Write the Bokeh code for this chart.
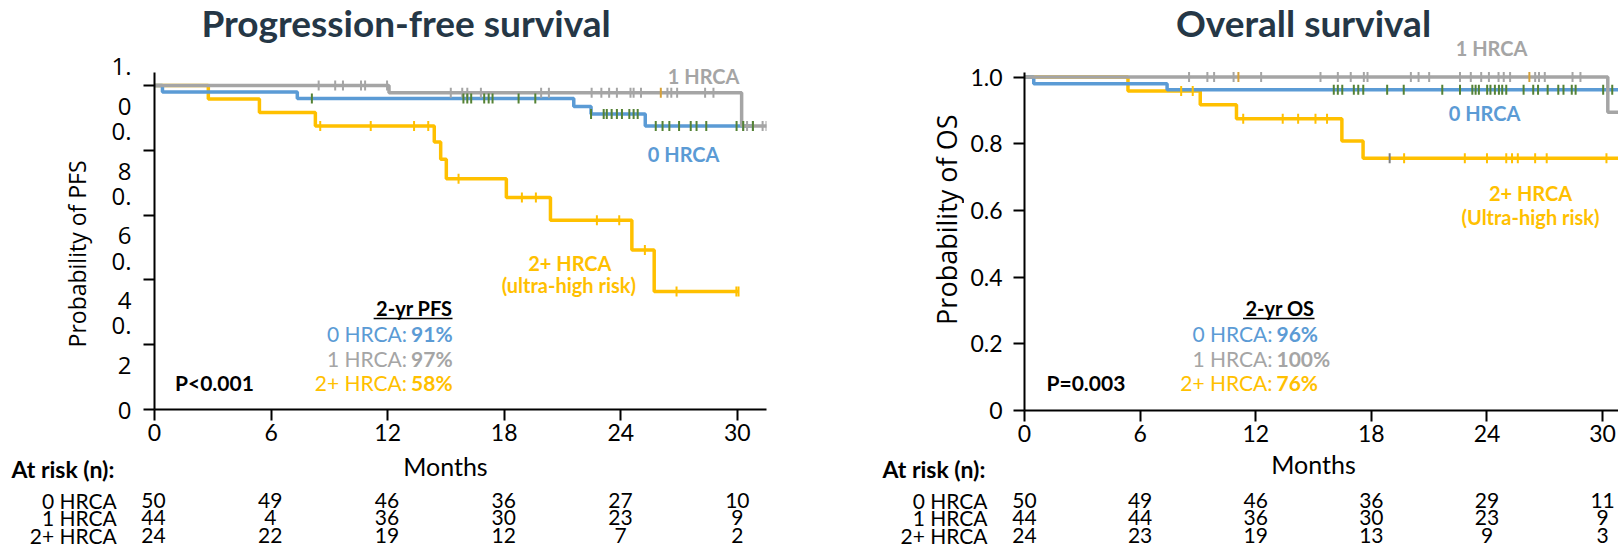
import numpy as np
from bokeh.plotting import figure
from bokeh.models import FixedTicker, Range1d
from bokeh.layouts import row, column
from bokeh.core.properties import value
from bokeh.embed import file_html
from bokeh.resources import INLINE

# ---------------- colours ----------------
GRAY = "#A5A5A5"
BLUE = "#5B9BD5"
YELLOW = "#FFC000"
GREEN = "#548235"
ORANGE = "#D6A13A"
DARK = "#7F7F7F"
TITLE = "#253746"

# ---------------- data ----------------
month_ticks = [0, 6, 12, 18, 24, 30]
group_names = ["0 HRCA", "1 HRCA", "2+ HRCA"]

# Progression-free survival (step curves: event times and survival after each)
pfs_0_t = [0, 0.41, 7.35, 21.58, 22.47, 25.26, 30.8]
pfs_0_s = [1.0, 0.98, 0.96, 0.935, 0.912, 0.875, 0.875]
pfs_1_t = [0, 12.07, 30.22, 31.6]
pfs_1_s = [1.0, 0.978, 0.875, 0.875]
pfs_2_t = [0, 2.77, 5.4, 8.28, 14.4, 14.73, 15.02, 18.11, 20.38, 24.57, 25.72, 30.06]
pfs_2_s = [1.0, 0.958, 0.917, 0.875, 0.826, 0.772, 0.712, 0.654, 0.584, 0.492, 0.364, 0.364]

pfs_0_cens = [8.1, 15.9, 16.1, 16.3, 16.97, 17.2, 17.4, 18.74, 19.6, 22.47, 23.12, 23.28,
              23.53, 23.8, 24.06, 24.44, 24.66, 24.87, 25.8, 26.15, 26.5, 27.0, 27.6, 27.9,
              28.4, 29.96, 30.3, 30.8]
pfs_1_cens = [8.45, 9.3, 9.7, 10.63, 10.84, 11.97, 15.25, 15.84, 16.1, 16.8, 19.9, 20.3,
              22.5, 23.0, 23.4, 23.8, 24.5, 24.66, 25.04, 26.4, 26.6, 26.9, 28.34, 28.77,
              30.3, 30.5, 30.8, 31.3, 31.5]
pfs_1_cens_hl = [26.06]
pfs_2_cens = [8.53, 11.13, 13.36, 14.09, 15.65, 18.91, 19.63, 22.77, 23.92, 25.24, 26.87,
              29.95, 30.06]

pfs_risk_0 = [50, 49, 46, 36, 27, 10]
pfs_risk_1 = [44, 4, 36, 30, 23, 9]
pfs_risk_2 = [24, 22, 19, 12, 7, 2]
pfs_2yr = ["91%", "97%", "58%"]
pfs_p = "P<0.001"

# Overall survival
os_0_t = [0, 0.48, 7.4, 31.5]
os_0_s = [1.0, 0.98, 0.962, 0.962]
os_1_t = [0, 30.27, 31.5]
os_1_s = [1.0, 0.894, 0.894]
os_2_t = [0, 5.37, 9.12, 11.0, 16.47, 17.57, 31.5]
os_2_s = [1.0, 0.958, 0.917, 0.875, 0.808, 0.756, 0.756]

os_0_cens = [16.05, 16.26, 16.49, 17.09, 17.32, 17.58, 18.82, 19.68, 21.68, 22.6, 23.24,
             23.41, 23.58, 24.01, 24.18, 24.41, 24.62, 24.79, 25.0, 25.9, 26.4, 26.65,
             27.15, 27.7, 27.97, 28.4, 28.6, 30.03, 30.5]
os_1_cens = [8.54, 9.49, 9.84, 10.85, 12.28, 15.36, 16.26, 16.93, 17.61, 17.8, 20.05,
             20.45, 21.0, 22.6, 23.16, 23.7, 24.1, 24.6, 24.87, 25.2, 26.5, 26.7, 27.0,
             28.44, 28.85]
os_1_cens_hl = [11.1, 26.2]
os_2_cens = [8.13, 8.73, 11.35, 13.4, 14.2, 15.1, 15.7, 19.7, 22.85, 24.0, 25.0, 25.3,
             25.6, 26.5, 27.1, 30.2]
os_2_cens_hl = [18.95]

os_risk_0 = [50, 49, 46, 36, 29, 11]
os_risk_1 = [44, 44, 36, 30, 23, 9]
os_risk_2 = [24, 23, 19, 13, 9, 3]
os_2yr = ["96%", "100%", "76%"]
os_p = "P=0.003"

# ---------------- page layout (px) ----------------
TOP_H = 447          # height of the plot row
BOT_H = 554 - TOP_H  # height of the risk-table row
ROW_Y = [499.5, 517, 534.5]


# ---------------- helpers ----------------
def step_value(times, surv, t):
    times = np.asarray(times)
    surv = np.asarray(surv)
    idx = np.searchsorted(times, np.asarray(t, dtype=float), side="right") - 1
    return surv[np.clip(idx, 0, len(surv) - 1)]


def add_curve(p, times, surv, color):
    p.step(times, surv, mode="after", line_color=color, line_width=3.5)


def add_censor(p, times, surv, cens, color):
    if not cens:
        return
    p.scatter(cens, step_value(times, surv, cens), marker="dash", angle=np.pi / 2,
              size=10, line_color=color, line_width=2)


def txt(p, x, y, text, size, color="black", bold=False, align="center",
        baseline="middle", font="Lato", angle=0.0):
    xs = list(x) if isinstance(x, (list, tuple)) else [x]
    ys = list(y) if isinstance(y, (list, tuple)) else [y] * len(xs)
    ts = list(text) if isinstance(text, (list, tuple)) else [text] * len(xs)
    p.text(x=xs, y=ys, text=ts, text_font=value(font), text_font_size=f"{size}px",
           text_color=color, text_font_style="bold" if bold else "normal",
           text_align=align, text_baseline=baseline, angle=angle)


def blank(width, height, x_range, y_range):
    p = figure(width=width, height=height, output_backend="svg", toolbar_location=None,
               x_axis_type=None, y_axis_type=None, title=None,
               x_range=x_range, y_range=y_range,
               min_border_left=0, min_border_right=0, min_border_top=0,
               min_border_bottom=0)
    p.outline_line_color = None
    p.background_fill_color = "white"
    p.border_fill_color = "white"
    return p


def make_main(width, mb_left, mb_right, mb_bottom, x_end, y_end, y_axis_top):
    p = figure(width=width, height=TOP_H, output_backend="svg", toolbar_location=None,
               title=None, x_range=Range1d(0, x_end), y_range=Range1d(0, y_end),
               min_border_left=mb_left, min_border_right=mb_right,
               min_border_top=0, min_border_bottom=mb_bottom)
    p.outline_line_color = None
    p.xgrid.visible = False
    p.ygrid.visible = False
    p.background_fill_color = "white"
    p.border_fill_color = "white"
    for ax in (p.xaxis[0], p.yaxis[0]):
        ax.axis_line_width = 2
        ax.axis_line_color = "black"
        ax.major_tick_line_width = 2
        ax.major_tick_line_color = "black"
        ax.major_tick_out = 11
        ax.major_tick_in = 0
        ax.minor_tick_out = 0
        ax.minor_tick_in = 0
        ax.major_label_text_color = "black"
    p.xaxis.ticker = FixedTicker(ticks=month_ticks)
    p.xaxis.major_label_text_font = "Lato"
    p.xaxis.major_label_text_font_size = "23px"
    p.xaxis.major_label_standoff = 3
    p.yaxis.ticker = FixedTicker(ticks=[0, 0.2, 0.4, 0.6, 0.8, 1.0])
    p.yaxis.bounds = (0, y_axis_top)
    return p


# ================= LEFT: PFS =================
LX0, LX1, LYB, LYT = 153.0, 766.0, 409.0, 72.0
L_XEND = 31.5
L_PPM = (LX1 - LX0) / L_XEND
L_PPU = 324.0


def lx(px):
    return (px - LX0) / L_PPM


def ly(py):
    return (LYB - py) / L_PPU


L_SIDE_W, L_SIDEB_W = 108, 120
left = make_main(800 - L_SIDE_W, int(LX0 - L_SIDE_W), int(800 - LX1), int(TOP_H - LYB),
                 L_XEND, LYB / L_PPU, (LYB - LYT) / L_PPU)
left.yaxis.major_label_overrides = {0: "0", 0.2: "0.\n2", 0.4: "0.\n4", 0.6: "0.\n6",
                                    0.8: "0.\n8", 1.0: "1.\n0"}
left.yaxis.major_label_text_font = "Open Sans"
left.yaxis.major_label_text_font_size = "24px"
left.yaxis.major_label_text_line_height = 1.2
left.yaxis.major_label_standoff = 12

add_curve(left, pfs_2_t, pfs_2_s, YELLOW)
add_curve(left, pfs_0_t, pfs_0_s, BLUE)
add_curve(left, pfs_1_t, pfs_1_s, GRAY)
add_censor(left, pfs_2_t, pfs_2_s, pfs_2_cens, YELLOW)
add_censor(left, pfs_1_t, pfs_1_s, pfs_1_cens, GRAY)
add_censor(left, pfs_1_t, pfs_1_s, pfs_1_cens_hl, ORANGE)
add_censor(left, pfs_0_t, pfs_0_s, pfs_0_cens, GREEN)

txt(left, lx(405), ly(22), "Progression-free survival", 37, TITLE, bold=True)
txt(left, lx(703), ly(75), "1 HRCA", 20, GRAY, bold=True)
txt(left, lx(683), ly(153), "0 HRCA", 20, BLUE, bold=True)
txt(left, lx(569), ly(262), "2+ HRCA", 20, YELLOW, bold=True)
txt(left, lx(568), ly(284), "(ultra-high risk)", 20, YELLOW, bold=True)

txt(left, lx(451.5), ly(307), "2-yr PFS", 20, bold=True, align="right")
left.line([lx(372.5), lx(451.5)], [ly(318), ly(318)], line_color="black", line_width=1.5)
for i, (name, col) in enumerate(zip(group_names, [BLUE, GRAY, YELLOW])):
    yy = ly(333 + 24.5 * i)
    txt(left, lx(406), yy, name + ":", 21, col, align="right")
    txt(left, lx(410), yy, pfs_2yr[i], 21, col, bold=True, align="left")
txt(left, lx(173.5), ly(382), pfs_p, 21, bold=True, align="left")

left_side = blank(L_SIDE_W, TOP_H, Range1d(0, L_SIDE_W), Range1d(TOP_H, 0))
txt(left_side, 76, 277, "Probability of PFS", 23, font="Open Sans", angle=np.pi / 2)

left_sideb = blank(L_SIDEB_W, BOT_H, Range1d(0, L_SIDEB_W), Range1d(TOP_H + BOT_H, TOP_H))
txt(left_sideb, 11, 468, "At risk (n):", 23, bold=True, align="left")
for i, name in enumerate(group_names):
    txt(left_sideb, 116.3, ROW_Y[i], name, 21, align="right")

left_bot = blank(800 - L_SIDEB_W, BOT_H, Range1d(lx(L_SIDEB_W), lx(800)),
                 Range1d(TOP_H + BOT_H, TOP_H))
txt(left_bot, 15, 465, "Months", 25)
for i, risk in enumerate([pfs_risk_0, pfs_risk_1, pfs_risk_2]):
    txt(left_bot, month_ticks, ROW_Y[i], [str(n) for n in risk], 21)

# ================= RIGHT: OS =================
RX0, RX1, RYB, RYT = 1024.0, 1618.0, 410.0, 72.0
R_PPM = 19.27
R_XEND = (RX1 - RX0) / R_PPM
R_PPU = 333.5


def rx(px):
    return (px - RX0) / R_PPM


def ry(py):
    return (RYB - py) / R_PPU


R_SIDE_X1, R_SIDEB_X1 = 964, 990
right = make_main(1618 - R_SIDE_X1, int(RX0 - R_SIDE_X1), 0, int(TOP_H - RYB),
                  R_XEND, RYB / R_PPU, (RYB - RYT) / R_PPU)
right.yaxis.major_label_overrides = {0: "0", 0.2: "0.2", 0.4: "0.4", 0.6: "0.6",
                                     0.8: "0.8", 1.0: "1.0"}
right.yaxis.major_label_text_font = "Lato"
right.yaxis.major_label_text_font_size = "23px"
right.yaxis.major_label_standoff = 11

add_curve(right, os_2_t, os_2_s, YELLOW)
add_curve(right, os_0_t, os_0_s, BLUE)
add_curve(right, os_1_t, os_1_s, GRAY)
add_censor(right, os_2_t, os_2_s, os_2_cens, YELLOW)
add_censor(right, os_2_t, os_2_s, os_2_cens_hl, DARK)
add_censor(right, os_1_t, os_1_s, os_1_cens, GRAY)
add_censor(right, os_1_t, os_1_s, os_1_cens_hl, ORANGE)
add_censor(right, os_0_t, os_0_s, os_0_cens, GREEN)

txt(right, rx(1303), ry(22), "Overall survival", 37, TITLE, bold=True)
txt(right, rx(1491), ry(47), "1 HRCA", 20, GRAY, bold=True)
txt(right, rx(1484), ry(112), "0 HRCA", 20, BLUE, bold=True)
txt(right, rx(1530), ry(192), "2+ HRCA", 20, YELLOW, bold=True)
txt(right, rx(1530), ry(216), "(Ultra-high risk)", 20, YELLOW, bold=True)

txt(right, rx(1314), ry(307), "2-yr OS", 20, bold=True, align="right")
right.line([rx(1242.5), rx(1314)], [ry(318), ry(318)], line_color="black", line_width=1.5)
for i, (name, col) in enumerate(zip(group_names, [BLUE, GRAY, YELLOW])):
    yy = ry(333 + 24.5 * i)
    txt(right, rx(1272), yy, name + ":", 21, col, align="right")
    txt(right, rx(1276), yy, os_2yr[i], 21, col, bold=True, align="left")
txt(right, rx(1046), ry(382), os_p, 21, bold=True, align="left")

right_side = blank(R_SIDE_X1 - 800, TOP_H, Range1d(800, R_SIDE_X1), Range1d(TOP_H, 0))
txt(right_side, 946, 239, "Probability of OS", 27, font="Open Sans", angle=np.pi / 2)

right_sideb = blank(R_SIDEB_X1 - 800, BOT_H, Range1d(800, R_SIDEB_X1),
                    Range1d(TOP_H + BOT_H, TOP_H))
txt(right_sideb, 882, 468, "At risk (n):", 23, bold=True, align="left")
for i, name in enumerate(group_names):
    txt(right_sideb, 987, ROW_Y[i], name, 21, align="right")

right_bot = blank(1618 - R_SIDEB_X1, BOT_H, Range1d(rx(R_SIDEB_X1), rx(1618)),
                  Range1d(TOP_H + BOT_H, TOP_H))
txt(right_bot, 15, 463, "Months", 25)
for i, risk in enumerate([os_risk_0, os_risk_1, os_risk_2]):
    txt(right_bot, month_ticks, ROW_Y[i], [str(n) for n in risk], 21)

left_panel = column(row(left_side, left, spacing=0), row(left_sideb, left_bot, spacing=0),
                    spacing=0)
right_panel = column(row(right_side, right, spacing=0),
                     row(right_sideb, right_bot, spacing=0), spacing=0)
layout = row(left_panel, right_panel, spacing=0)
open("out.html", "w").write(file_html(layout, INLINE))
